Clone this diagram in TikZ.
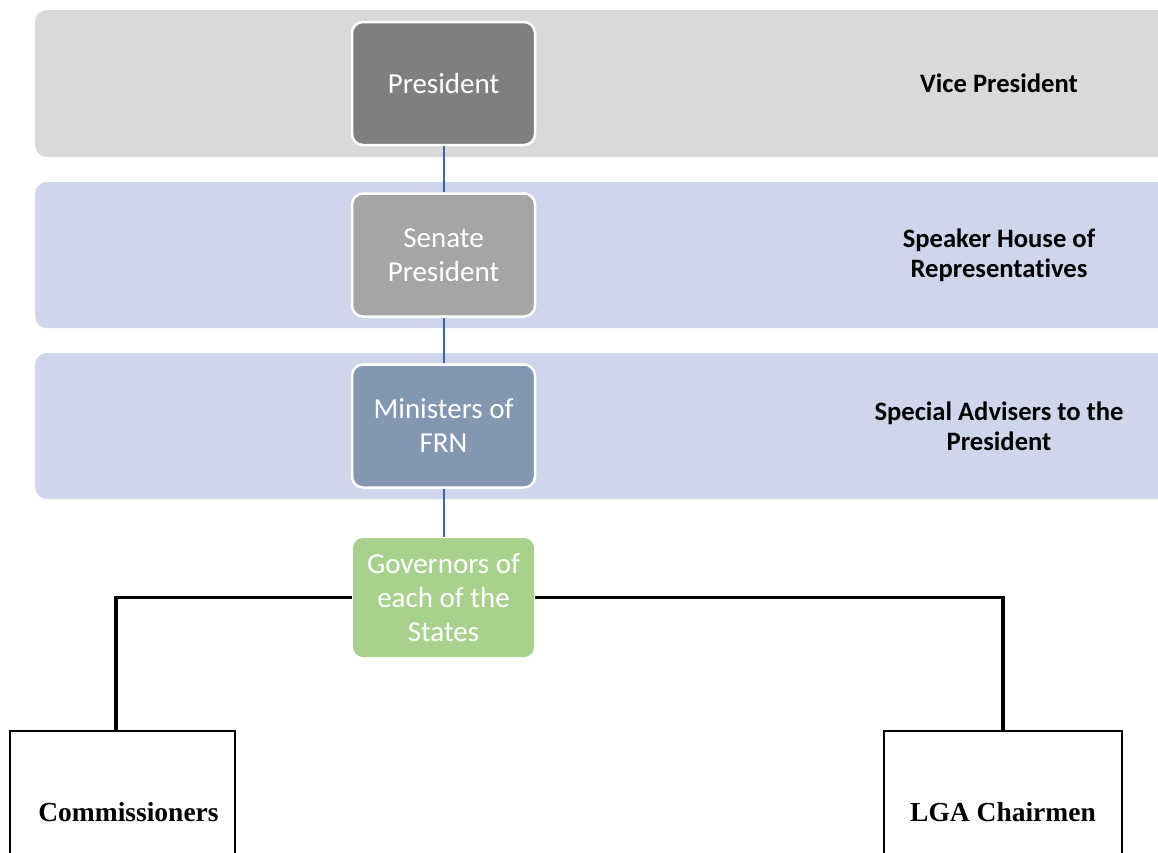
\documentclass[tikz,border=0pt]{standalone}
\usepackage{fontspec}
\setmainfont{Carlito}[RawFeature={-liga;-clig;-calt;-dlig}]
\newfontfamily\boxserif{Liberation Serif}
\definecolor{bandgray}{HTML}{D9D9D9}
\definecolor{bandblue}{HTML}{CFD5EA}
\definecolor{presfill}{HTML}{7F7F7F}
\definecolor{senfill}{HTML}{A5A5A5}
\definecolor{minfill}{HTML}{8497B0}
\definecolor{govfill}{HTML}{A9D18E}
\definecolor{linkblue}{HTML}{3B64AD}
\begin{document}
\begin{tikzpicture}[x=1pt,y=-1pt,
  band/.style={rounded corners=12pt},
  orgbox/.style={draw=white, line width=2.5pt, rounded corners=11pt,
    minimum width=183pt, minimum height=123pt, inner sep=2pt,
    text=white, align=center, font=\fontsize{29}{34}\selectfont},
  sidelabel/.style={align=center, font=\bfseries\fontsize{26.6}{30}\selectfont},
  leafbox/.style={draw=black, line width=2.5pt, minimum height=162pt,
    font=\boxserif\bfseries\fontsize{27.5}{30}\selectfont},
  bluelink/.style={draw=linkblue, line width=2pt},
  blacklink/.style={draw=black, line width=3.5pt}]
\useasboundingbox (0,0) rectangle (1158,852);
\clip (0,0) rectangle (1158,852);

% background bands
\fill[band, bandgray] (35,10) rectangle (1200,157);
\fill[band, bandblue] (35,182) rectangle (1200,328);
\fill[band, bandblue] (35,353) rectangle (1200,499);

% main chain
\node[orgbox, fill=presfill] (pres) at (443.5,83.5) {President};
\node[orgbox, fill=senfill] (sen) at (443.5,255) {Senate\\President};
\node[orgbox, fill=minfill] (min) at (443.5,426) {Ministers of\\FRN};
\node[orgbox, draw=none, fill=govfill, minimum width=181pt, minimum height=119pt,
      rounded corners=10pt] (gov) at (443.5,597.5) {Governors of\\each of the\\States};

% labels on the right of each band
\node[sidelabel] (vp) at (999,83) {Vice President};
\node[sidelabel] (spk) at (999,255) {Speaker House of\\Representatives};
\node[sidelabel] (adv) at (999,426) {Special Advisers to the\\President};

% bottom level
\node[leafbox, minimum width=225pt] (comm) at (122.5,812) {\hspace*{12pt}Commissioners};
\node[leafbox, minimum width=238pt] (lga) at (1003,812) {LGA Chairmen};

% connectors
\draw[bluelink] (pres.south) -- (sen.north);
\draw[bluelink] (sen.south) -- (min.north);
\draw[bluelink] (min.south) -- (gov.north);
\draw[blacklink] (gov.west) -| ([xshift=-6.5pt]comm.north);
\draw[blacklink] (gov.east) -| (lga.north);
\end{tikzpicture}
\end{document}
